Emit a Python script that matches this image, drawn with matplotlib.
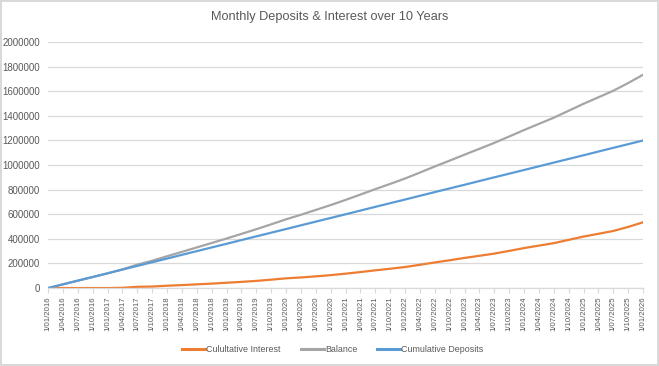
import matplotlib
matplotlib.use('Agg')
import matplotlib.pyplot as plt
import pandas as pd

# QUARTERLY DATES (axis labels)
quarter_labels = [
    '1/01/2016', '1/04/2016', '1/07/2016', '1/10/2016',
    '1/01/2017', '1/04/2017', '1/07/2017', '1/10/2017',
    '1/01/2018', '1/04/2018', '1/07/2018', '1/10/2018',
    '1/01/2019', '1/04/2019', '1/07/2019', '1/10/2019',
    '1/01/2020', '1/04/2020', '1/07/2020', '1/10/2020',
    '1/01/2021', '1/04/2021', '1/07/2021', '1/10/2021',
    '1/01/2022', '1/04/2022', '1/07/2022', '1/10/2022',
    '1/01/2023', '1/04/2023', '1/07/2023', '1/10/2023',
    '1/01/2024', '1/04/2024', '1/07/2024', '1/10/2024',
    '1/01/2025', '1/04/2025', '1/07/2025', '1/10/2025',
    '1/01/2026',
]

# VALUES (one per quarter)
cumulative_interest = [
    0, 0, 0, 0, 0, 2000, 10000, 12000,
    19000, 24000, 30000, 36000, 43000, 50000, 58000, 68000,
    79000, 86000, 95000, 105000, 117000, 130000, 144000, 157000,
    171000, 189000, 208000, 226000, 245000, 262000, 280000, 302000,
    325000, 345000, 365000, 392000, 419000, 441000, 464000, 497000,
    535000,
]
balance = [
    0, 30000, 60000, 90000, 120000, 152000, 190000, 222000,
    259000, 294000, 330000, 366000, 403000, 440000, 478000, 518000,
    559000, 596000, 635000, 675000, 717000, 760000, 804000, 847000,
    891000, 939000, 988000, 1036000, 1085000, 1132000, 1180000, 1232000,
    1285000, 1335000, 1385000, 1442000, 1499000, 1551000, 1604000, 1667000,
    1735000,
]
cumulative_deposits = [
    0, 30000, 60000, 90000, 120000, 150000, 180000, 210000,
    240000, 270000, 300000, 330000, 360000, 390000, 420000, 450000,
    480000, 510000, 540000, 570000, 600000, 630000, 660000, 690000,
    720000, 750000, 780000, 810000, 840000, 870000, 900000, 930000,
    960000, 990000, 1020000, 1050000, 1080000, 1110000, 1140000, 1170000,
    1200000,
]

dates = pd.to_datetime(quarter_labels, format='%d/%m/%Y')

TEXT_GREY = '#595959'
plt.rcParams['font.family'] = ['Liberation Sans', 'DejaVu Sans']

fig = plt.figure(figsize=(6.59, 3.66), dpi=100)
fig.patch.set_facecolor('white')
fig.patch.set_edgecolor('#d9d9d9')
fig.patch.set_linewidth(1.5)

ax = fig.add_axes([0.073, 0.213, 0.903, 0.672])

ax.plot(dates, cumulative_interest, color='#ED7D31', lw=1.6, label='Culultative Interest')
ax.plot(dates, balance, color='#A5A5A5', lw=1.6, label='Balance')
ax.plot(dates, cumulative_deposits, color='#5B9BD5', lw=1.6, label='Cumulative Deposits')

ax.set_xlim(dates[0], dates[-1])
ax.set_ylim(0, 2000000)
ax.set_yticks(range(0, 2000001, 200000))
ax.set_yticklabels([str(v) for v in range(0, 2000001, 200000)], fontsize=7, color=TEXT_GREY)
ax.set_xticks(dates)
ax.set_xticklabels(quarter_labels, rotation=90, fontsize=5.6, color=TEXT_GREY)

ax.grid(axis='y', color='#d9d9d9', lw=0.9)
ax.set_axisbelow(True)
for side in ['top', 'right', 'left']:
    ax.spines[side].set_visible(False)
ax.spines['bottom'].set_color('#d9d9d9')
ax.spines['bottom'].set_linewidth(0.9)
ax.tick_params(axis='y', length=0, pad=6)
ax.tick_params(axis='x', length=3.5, color='#d9d9d9', pad=2.5)

fig.text(0.5, 0.953, 'Monthly Deposits & Interest over 10 Years', ha='center', va='center',
         fontsize=9.2, color=TEXT_GREY)

leg = fig.legend(loc='center', bbox_to_anchor=(0.505, 0.046), ncol=3, frameon=False,
                 fontsize=6.4, labelcolor=TEXT_GREY, handlelength=2.6, handletextpad=0.15,
                 columnspacing=2.2)
for line in leg.get_lines():
    line.set_linewidth(2.2)

fig.savefig('out.png', dpi=100)
